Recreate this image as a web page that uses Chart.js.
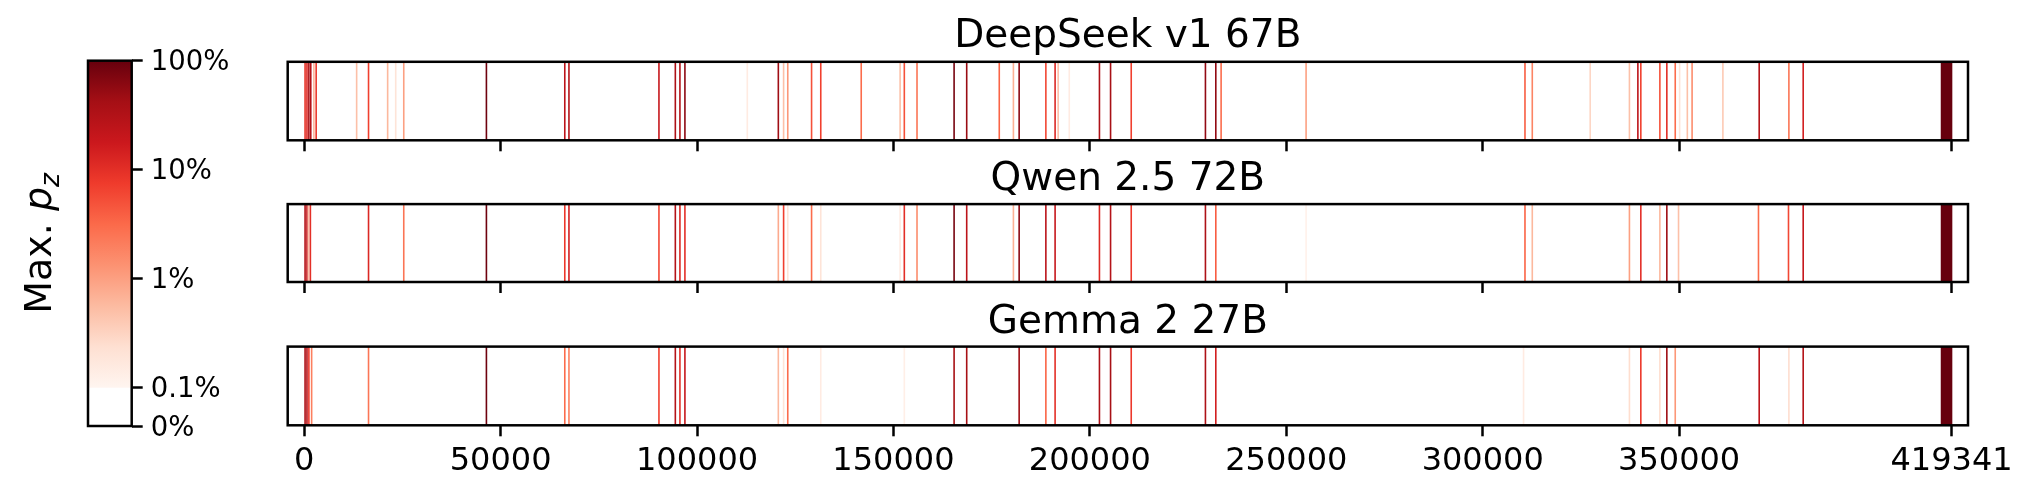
<!DOCTYPE html>
<html>
<head>
<meta charset="utf-8">
<title>Max. p_z per token</title>
<script src="https://cdn.jsdelivr.net/npm/chart.js@4.4.1/dist/chart.umd.min.js"></script>
<style>
  html, body { margin: 0; padding: 0; background: #fff; }
  #page { position: relative; width: 2035px; height: 498px; overflow: hidden; background: #fff; }
  canvas { position: absolute; }
</style>
</head>
<body>
<div id="page">
  <canvas id="cbar" width="270" height="498" style="left:0;top:0"></canvas>
  <canvas id="strip0" width="1765" height="152" style="left:270px;top:0"></canvas>
  <canvas id="strip1" width="1765" height="142" style="left:270px;top:152px"></canvas>
  <canvas id="strip2" width="1765" height="204" style="left:270px;top:294px"></canvas>
</div>
<script>
// token ids (vocabulary index) and max p_z in percent
const models = ["DeepSeek v1 67B", "Qwen 2.5 72B", "Gemma 2 27B"];

const deepseekTokens = [229, 712, 1196, 1680, 2468, 3053, 13357, 16383, 21250, 23300, 25350,
  46390, 66340, 67400, 90310, 94480, 95650, 96920, 112800, 120700, 122040, 123100, 129160,
  131500, 141800, 151700, 152770, 156000, 165440, 168650, 176940, 180540, 182000, 188800,
  191150, 191930, 194760, 202440, 205270, 210530, 229420, 232060, 233410, 255040, 310760,
  312620, 327360, 337350, 339500, 340250, 345100, 346870, 349010, 350130, 352090, 353300,
  361140, 370380, 377940, 381580];
const deepseekPz = [9, 12, 40, 30, 0.6, 8, 0.5, 7, 0.6, 0.2, 1.0,
  90, 25, 30, 20, 35, 30, 60, 0.15, 45, 0.5, 1.2, 5,
  7, 3, 0.5, 5, 2.5, 80, 50, 3.5, 0.7, 60, 6,
  12, 0.5, 0.15, 35, 40, 7, 55, 55, 3, 1.0, 4,
  1.8, 0.3, 0.5, 25, 7, 5, 10, 3, 0.2, 0.5, 1.5,
  0.4, 30, 2.5, 15];

const qwenTokens = [229, 712, 1100, 1580, 16383, 25350, 46390, 66340, 67400, 90310, 94480,
  95650, 96920, 120700, 122040, 123100, 129160, 131500, 151700, 152770, 156000, 165440,
  168650, 180540, 182000, 188800, 191150, 202440, 205270, 210530, 229420, 232060, 255040,
  310760, 312620, 337350, 340250, 345100, 346870, 349850, 370200, 377840, 381580];
const qwenPz = [30, 20, 0.5, 10, 12, 2.5, 90, 8, 15, 6, 30,
  12, 10, 0.8, 7, 0.2, 3, 0.2, 0.15, 10, 1.5, 80,
  25, 0.7, 60, 25, 20, 12, 30, 8, 35, 4, 0.12,
  3.5, 0.6, 1.0, 10, 0.6, 45, 0.5, 3, 6, 20];

const gemmaTokens = [229, 712, 1200, 1900, 16383, 46390, 66340, 67400, 90310, 94480, 95650,
  96920, 120700, 122040, 123100, 131500, 152770, 165440, 168650, 182000, 188800, 191150,
  202440, 205270, 210530, 229420, 232060, 310400, 337350, 340250, 345100, 346870, 349010,
  370380, 377940, 381580];
const gemmaPz = [35, 30, 8, 2, 2.5, 90, 3, 2, 7, 30, 10,
  20, 0.6, 0.2, 3, 0.15, 0.13, 40, 40, 45, 3.5, 10,
  35, 40, 8, 35, 15, 0.15, 0.25, 8, 0.25, 45, 1.2,
  25, 0.25, 30];

// block of tokens at the end of the vocabulary, same in every model
const tailRange = [416800, 419341];
const tailPz = 100;

const xTicks = [0, 50000, 100000, 150000, 200000, 250000, 300000, 350000, 419341];
const cbTickPcts = [0, 0.1, 1, 10, 100];
const cbTickLabels = ["0%", "0.1%", "1%", "10%", "100%"];

// matplotlib "Reds"
const REDS = ["#fff5f0", "#fee0d2", "#fcbba1", "#fc9272", "#fb6a4a", "#ef3b2c", "#cb181d", "#a50f15", "#67000d"];
const FONT = "DejaVu Sans";
const LIN_SPAN = 0.35; // height of the 0 .. 0.1% part of the colour bar, in decades

function hexRgb(h) {
  return [parseInt(h.slice(1, 3), 16), parseInt(h.slice(3, 5), 16), parseInt(h.slice(5, 7), 16)];
}

function redsColor(pct) {
  if (pct < 0.1) return "#ffffff";
  const t = Math.min(1, Math.max(0, (Math.log10(pct) + 1) / 3));
  const f = t * 8;
  const i = Math.min(7, Math.floor(f));
  const u = f - i;
  const a = hexRgb(REDS[i]), b = hexRgb(REDS[i + 1]);
  const c = a.map((v, k) => Math.round(v + (b[k] - v) * u));
  return `rgb(${c[0]}, ${c[1]}, ${c[2]})`;
}

// colour bar axis: log above 0.1%, linear below
function cbPos(pct) {
  if (pct >= 0.1) return Math.log10(pct / 100);
  return -3 - LIN_SPAN * (1 - pct / 0.1);
}

const framePlugin = {
  id: "frame",
  afterDatasetsDraw(chart) {
    const { ctx, chartArea: a } = chart;
    ctx.save();
    ctx.strokeStyle = "#000";
    ctx.lineWidth = 2.5;
    ctx.strokeRect(a.left, a.top, a.right - a.left, a.bottom - a.top);
    ctx.restore();
  }
};

function makeStrip(id, title, tokens, pz, lay) {
  const data = tokens.map(t => ({ x: [t, t + 1], y: title }));
  data.push({ x: tailRange, y: title });
  const values = pz.concat([tailPz]);

  new Chart(document.getElementById(id), {
    type: "bar",
    data: {
      labels: [title],
      datasets: [{
        data: data,
        backgroundColor: c => redsColor(values[c.dataIndex]),
        inflateAmount: 0.8,
        categoryPercentage: 1,
        barPercentage: 1,
        grouped: false
      }]
    },
    options: {
      responsive: false,
      animation: false,
      indexAxis: "y",
      layout: { padding: { left: 17.7, right: 67, top: 0, bottom: 0 } },
      plugins: {
        legend: { display: false },
        tooltip: { enabled: false },
        title: {
          display: true,
          text: title,
          color: "#000",
          font: { family: FONT, size: 39, weight: "normal", lineHeight: 1.2 },
          padding: { top: lay.titleTop, bottom: lay.titleBottom }
        }
      },
      scales: {
        y: { display: false },
        x: {
          type: "linear",
          min: -4193,
          max: 423534,
          afterBuildTicks: axis => { axis.ticks = xTicks.map(v => ({ value: v })); },
          afterFit: axis => { axis.height = lay.axisHeight; },
          border: { display: false },
          grid: { drawOnChartArea: false, drawTicks: true, tickLength: 11, tickWidth: 2.5, tickColor: "#000" },
          ticks: {
            display: lay.labels,
            autoSkip: false,
            maxRotation: 0,
            padding: 6,
            color: "#000",
            font: { family: FONT, size: 32 },
            callback: v => String(v)
          }
        }
      }
    },
    plugins: [framePlugin]
  });
}

makeStrip("strip0", models[0], deepseekTokens, deepseekPz, { titleTop: 13.6, titleBottom: 1.4, axisHeight: 11.7, labels: false });
makeStrip("strip1", models[1], qwenTokens, qwenPz, { titleTop: 4.8, titleBottom: 0.5, axisHeight: 12, labels: false });
makeStrip("strip2", models[2], gemmaTokens, gemmaPz, { titleTop: 5.8, titleBottom: 0, axisHeight: 72.7, labels: true });

// colour bar
function redsGradient(chart) {
  const y = chart.scales.y;
  if (!y || !chart.chartArea) return REDS[4];
  const g = chart.ctx.createLinearGradient(0, y.getPixelForValue(cbPos(0.1)), 0, y.getPixelForValue(cbPos(100)));
  REDS.forEach((c, i) => g.addColorStop(i / (REDS.length - 1), c));
  return g;
}

const cbLabelPlugin = {
  id: "cbLabel",
  afterDraw(chart) {
    const { ctx, chartArea: a } = chart;
    const size = 38;
    ctx.save();
    ctx.fillStyle = "#000";
    ctx.textBaseline = "alphabetic";
    ctx.font = `${size}px "${FONT}"`;
    const w1 = ctx.measureText("Max. ").width;
    ctx.font = `italic ${size}px "${FONT}"`;
    const w2 = ctx.measureText("p").width;
    ctx.font = `italic ${size * 0.7}px "${FONT}"`;
    const w3 = ctx.measureText("z").width;
    const total = w1 + w2 + w3;
    ctx.translate(51, (a.top + a.bottom) / 2);
    ctx.rotate(-Math.PI / 2);
    let u = -total / 2;
    ctx.font = `${size}px "${FONT}"`;
    ctx.fillText("Max. ", u, 0);
    u += w1;
    ctx.font = `italic ${size}px "${FONT}"`;
    ctx.fillText("p", u, 0);
    u += w2;
    ctx.font = `italic ${size * 0.7}px "${FONT}"`;
    ctx.fillText("z", u, size * 0.2);
    ctx.restore();
  }
};

new Chart(document.getElementById("cbar"), {
  type: "bar",
  data: {
    labels: ["pz"],
    datasets: [{
      data: [
        { x: "pz", y: [cbPos(0), cbPos(0.1)] },
        { x: "pz", y: [cbPos(0.1), cbPos(100)] }
      ],
      backgroundColor: c => (c.dataIndex === 0 ? "#ffffff" : redsGradient(c.chart)),
      inflateAmount: 0,
      categoryPercentage: 1,
      barPercentage: 1,
      grouped: false
    }]
  },
  options: {
    responsive: false,
    animation: false,
    layout: { padding: { left: 88, right: 0, top: 60.7, bottom: 72 } },
    plugins: { legend: { display: false }, tooltip: { enabled: false } },
    scales: {
      x: { display: false },
      y: {
        type: "linear",
        position: "right",
        min: cbPos(0),
        max: cbPos(100),
        afterBuildTicks: axis => { axis.ticks = cbTickPcts.map(p => ({ value: cbPos(p) })); },
        afterFit: axis => { axis.width = 138.3; },
        border: { display: false },
        grid: { drawOnChartArea: false, drawTicks: true, tickLength: 11, tickWidth: 2.5, tickColor: "#000" },
        ticks: {
          padding: 8,
          labelOffset: 2.5,
          color: "#000",
          font: { family: FONT, size: 27.5 },
          callback: (v, i) => cbTickLabels[i]
        }
      }
    }
  },
  plugins: [framePlugin, cbLabelPlugin]
});
</script>
</body>
</html>
